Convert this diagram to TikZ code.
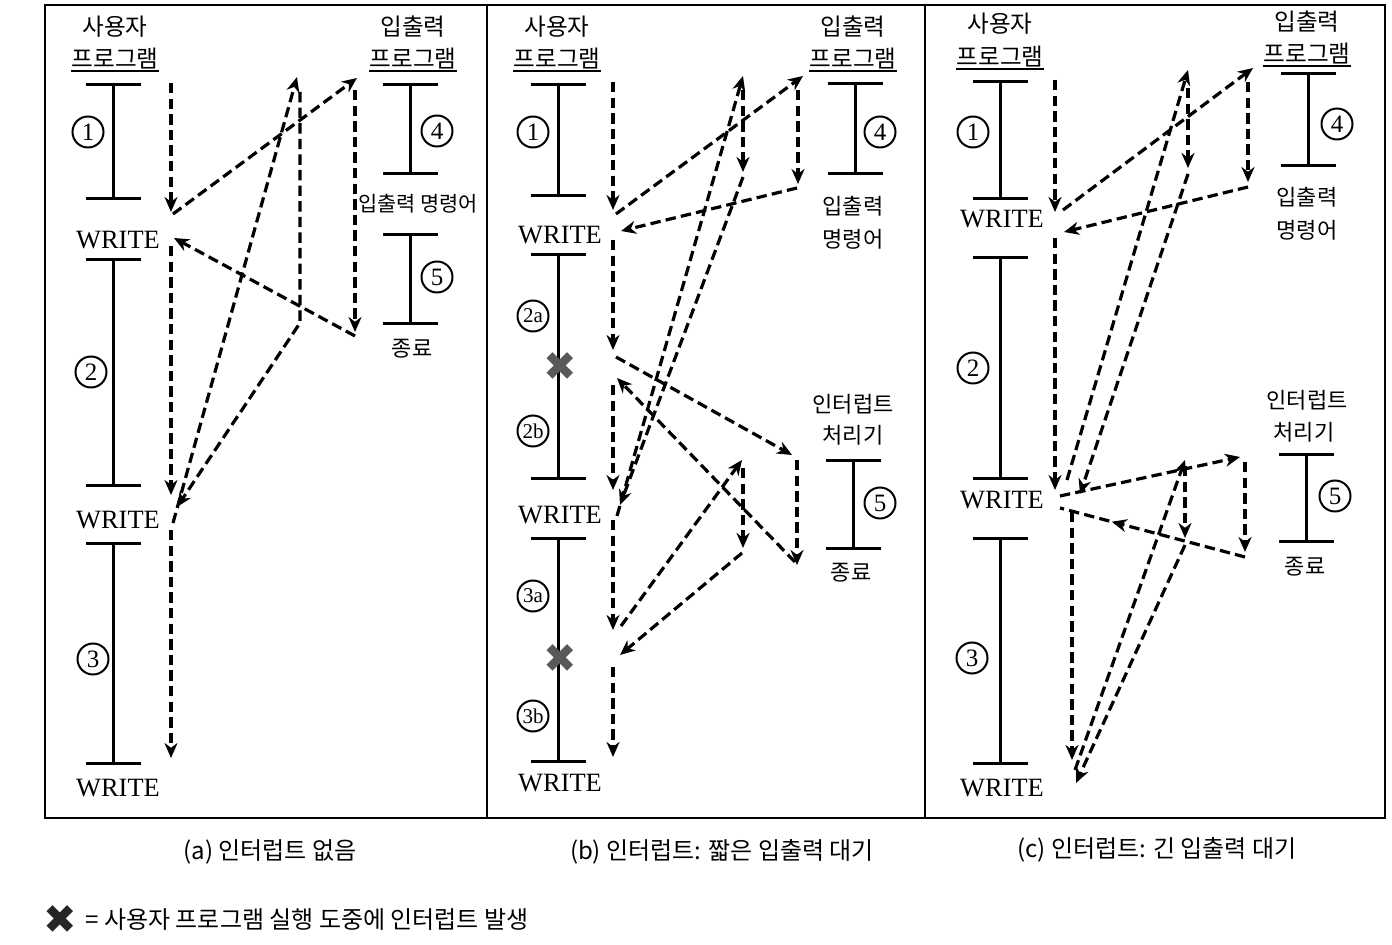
\documentclass[tikz,border=0pt]{standalone}
\usepackage{fontspec}
\setmainfont{Liberation Serif}
\newfontfamily\krfont{Noto Sans CJK KR}
\newfontfamily\symfont{DejaVu Sans}
\usetikzlibrary{arrows.meta,positioning,decorations.markings}

\newlength{\du}
\setlength{\du}{0.5pt}

\tikzset{
  hdr/.style={font=\krfont\fontsize{11.8}{13}\selectfont, inner sep=0pt},
  ulhdr/.style={hdr, inner ysep=0.5pt},
  sml/.style={font=\krfont\fontsize{11}{13}\selectfont, inner sep=0pt},
  wrt/.style={font=\fontsize{13.2}{15}\selectfont, inner sep=0pt},
  num/.style={draw, circle, line width=1pt, minimum size=15.5pt, inner sep=0pt, font=\fontsize{12.5}{13}\selectfont},
  numab/.style={num, font=\fontsize{10.5}{11}\selectfont},
  seg/.style={line width=1.5pt, arrows={Bar[width=27.5pt]-Bar[width=27.5pt]}},
  uline/.style={line width=0.8pt},
  link/.style={line width=1.6pt, dash pattern=on 5.2pt off 2.6pt},
  flow/.style={link, arrows={-Stealth[length=7.5pt,width=6.5pt,inset=2.4pt]}},
  midflow/.style={link, postaction={decorate}, decoration={markings, mark=at position 0.72 with {\arrow{Stealth[length=7.5pt,width=6.5pt,inset=2.4pt]}}}},
  xmk/.style={font=\symfont\fontsize{20}{20}\selectfont, text=black!65, inner sep=0pt},
  capt/.style={font=\krfont\fontsize{12}{14}\selectfont, inner sep=0pt},
  frame/.style={line width=1.4pt}
}

\begin{document}
\begin{tikzpicture}
\pgftransformxscale{1.000000}
\pgftransformyscale{-1.000000}
\useasboundingbox (0\du,0\du) rectangle (1392\du,945\du);
% frames
\draw[frame] (45\du,5\du) rectangle (1385\du,818\du);
\draw[frame] (487\du,5\du) -- (487\du,818\du);
\draw[frame] (925\du,5\du) -- (925\du,818\du);

% (a) user program
\node[hdr] (a-usr) at (115\du,27\du) {사용자};
\node[ulhdr] (a-prg) at (115\du,59\du) {프로그램};
\draw[uline] (a-prg.south west) -- (a-prg.south east);
\draw[seg] (113\du,83\du) coordinate (a-s1t) -- (113\du,200\du) coordinate (a-s1b);
\node[wrt] (a-w1) at (118\du,240\du) {WRITE};
\draw[seg] (113\du,258\du) coordinate (a-s2t) -- (113\du,487\du) coordinate (a-s2b);
\node[wrt] (a-w2) at (118\du,520\du) {WRITE};
\draw[seg] (113\du,542\du) coordinate (a-s3t) -- (113\du,765\du) coordinate (a-s3b);
\node[wrt] (a-w3) at (118\du,788\du) {WRITE};
\node[num] (a-n1) at (88\du,132\du) {1};
\node[num] (a-n2) at (91\du,372\du) {2};
\node[num] (a-n3) at (93\du,659\du) {3};
% (a) I/O program
\node[hdr] (a-io) at (413\du,27\du) {입출력};
\node[ulhdr] (a-iop) at (413\du,59\du) {프로그램};
\draw[uline] (a-iop.south west) -- (a-iop.south east);
\draw[seg] (410\du,83\du) coordinate (a-s4t) -- (410\du,175\du) coordinate (a-s4b);
\node[sml, font=\krfont\fontsize{10.4}{12}\selectfont] (a-cmd) at (418\du,204\du) {입출력 명령어};
\draw[seg] (410\du,233\du) coordinate (a-s5t) -- (410\du,325\du) coordinate (a-s5b);
\node[sml] (a-end) at (412\du,349\du) {종료};
\node[num] (a-n4) at (437\du,131\du) {4};
\node[num] (a-n5) at (437\du,277\du) {5};
% (a) flow
\coordinate (pa0) at (171\du,83\du);   \coordinate (pa1) at (171\du,212\du);
\coordinate (pa2) at (173\du,214\du);  \coordinate (pa3) at (357\du,78\du);
\coordinate (pa4) at (355\du,90\du);   \coordinate (pa5) at (355\du,332\du);
\coordinate (pa6) at (355\du,336\du);  \coordinate (pa7) at (174\du,238\du);
\coordinate (pa8) at (171\du,246\du);  \coordinate (pa9) at (171\du,495\du);
\coordinate (pa10) at (173\du,523\du); \coordinate (pa11) at (297\du,77\du);
\coordinate (pa12) at (300\du,92\du);  \coordinate (pa13) at (300\du,323\du);
\coordinate (pa14) at (177\du,507\du);
\coordinate (pa15) at (171\du,530\du); \coordinate (pa16) at (171\du,758\du);
\draw[flow] (pa0) -- (pa1);
\draw[flow] (pa2) -- (pa3);
\draw[flow] (pa4) -- (pa5);
\draw[flow] (pa6) -- (pa7);
\draw[flow] (pa8) -- (pa9);
\draw[flow] (pa10) -- (pa11);
\draw[flow] (pa12) -- (pa13) -- (pa14);
\draw[flow] (pa15) -- (pa16);

% (b) user program
\node[hdr] (b-usr) at (557\du,27\du) {사용자};
\node[ulhdr] (b-prg) at (557\du,59\du) {프로그램};
\draw[uline] (b-prg.south west) -- (b-prg.south east);
\draw[seg] (558\du,83\du) coordinate (b-s1t) -- (558\du,197\du) coordinate (b-s1b);
\node[wrt] (b-w1) at (560\du,235\du) {WRITE};
\draw[seg] (558\du,253\du) coordinate (b-s2t) -- (558\du,480\du) coordinate (b-s2b);
\node[wrt] (b-w2) at (560\du,515\du) {WRITE};
\draw[seg] (558\du,537\du) coordinate (b-s3t) -- (558\du,763\du) coordinate (b-s3b);
\node[wrt] (b-w3) at (560\du,783\du) {WRITE};
\node[num] (b-n1) at (533\du,132\du) {1};
\node[numab] (b-n2a) at (533\du,316\du) {2a};
\node[numab] (b-n2b) at (533\du,431\du) {2b};
\node[numab] (b-n3a) at (533\du,596\du) {3a};
\node[numab] (b-n3b) at (533\du,716\du) {3b};
\node[xmk] (b-x1) at (560\du,367\du) {✖};
\node[xmk] (b-x2) at (560\du,659\du) {✖};
% (b) I/O program
\node[hdr] (b-io) at (853\du,27\du) {입출력};
\node[ulhdr] (b-iop) at (853\du,59\du) {프로그램};
\draw[uline] (b-iop.south west) -- (b-iop.south east);
\draw[seg] (855\du,82\du) coordinate (b-s4t) -- (855\du,175\du) coordinate (b-s4b);
\node[num] (b-n4) at (880\du,132\du) {4};
\node[sml] (b-cmd1) at (853\du,206\du) {입출력};
\node[sml] (b-cmd2) at (853\du,239\du) {명령어};
% (b) interrupt handler
\node[sml] (b-ih1) at (853\du,404\du) {인터럽트};
\node[sml] (b-ih2) at (853\du,435\du) {처리기};
\draw[seg] (853\du,459\du) coordinate (b-s5t) -- (853\du,550\du) coordinate (b-s5b);
\node[num] (b-n5) at (880\du,503\du) {5};
\node[sml] (b-end) at (851\du,573\du) {종료};
% (b) flow
\coordinate (pb0) at (613\du,82\du);   \coordinate (pb1) at (613\du,210\du);
\coordinate (pb2) at (616\du,214\du);  \coordinate (pb3) at (803\du,76\du);
\coordinate (pb4) at (798\du,90\du);   \coordinate (pb5) at (798\du,184\du);
\coordinate (pb6) at (797\du,188\du);  \coordinate (pb7) at (621\du,231\du);
\coordinate (pb8) at (613\du,240\du);  \coordinate (pb9) at (613\du,350\du);
\coordinate (pb10) at (616\du,357\du); \coordinate (pb11) at (792\du,455\du);
\coordinate (pb12) at (797\du,460\du); \coordinate (pb13) at (797\du,565\du);
\coordinate (pb14) at (795\du,562\du); \coordinate (pb15) at (617\du,378\du);
\coordinate (pb16) at (613\du,385\du); \coordinate (pb17) at (613\du,490\du);
\coordinate (pb18) at (617\du,516\du); \coordinate (pb19) at (743\du,76\du);
\coordinate (pb20) at (743\du,90\du);  \coordinate (pb21) at (743\du,172\du);
\coordinate (pb22) at (743\du,177\du); \coordinate (pb23) at (620\du,505\du);
\coordinate (pb24) at (613\du,520\du); \coordinate (pb25) at (613\du,630\du);
\coordinate (pb26) at (621\du,626\du); \coordinate (pb27) at (742\du,460\du);
\coordinate (pb28) at (743\du,468\du); \coordinate (pb29) at (743\du,548\du);
\coordinate (pb30) at (742\du,553\du); \coordinate (pb31) at (620\du,655\du);
\coordinate (pb32) at (613\du,667\du); \coordinate (pb33) at (613\du,757\du);
\draw[flow] (pb0) -- (pb1);
\draw[flow] (pb2) -- (pb3);
\draw[flow] (pb4) -- (pb5);
\draw[flow] (pb6) -- (pb7);
\draw[flow] (pb8) -- (pb9);
\draw[flow] (pb10) -- (pb11);
\draw[flow] (pb12) -- (pb13);
\draw[flow] (pb14) -- (pb15);
\draw[flow] (pb16) -- (pb17);
\draw[flow] (pb18) -- (pb19);
\draw[flow] (pb20) -- (pb21);
\draw[flow] (pb22) -- (pb23);
\draw[flow] (pb24) -- (pb25);
\draw[flow] (pb26) -- (pb27);
\draw[flow] (pb28) -- (pb29);
\draw[flow] (pb30) -- (pb31);
\draw[flow] (pb32) -- (pb33);

% (c) user program
\node[hdr] (c-usr) at (1000\du,24\du) {사용자};
\node[ulhdr] (c-prg) at (1000\du,57\du) {프로그램};
\draw[uline] (c-prg.south west) -- (c-prg.south east);
\draw[seg] (1000\du,80\du) coordinate (c-s1t) -- (1000\du,200\du) coordinate (c-s1b);
\node[wrt] (c-w1) at (1002\du,219\du) {WRITE};
\draw[seg] (1000\du,256\du) coordinate (c-s2t) -- (1000\du,480\du) coordinate (c-s2b);
\node[wrt] (c-w2) at (1002\du,500\du) {WRITE};
\draw[seg] (1000\du,537\du) coordinate (c-s3t) -- (1000\du,765\du) coordinate (c-s3b);
\node[wrt] (c-w3) at (1002\du,788\du) {WRITE};
\node[num] (c-n1) at (973\du,132\du) {1};
\node[num] (c-n2) at (973\du,368\du) {2};
\node[num] (c-n3) at (972\du,658\du) {3};
% (c) I/O program
\node[hdr] (c-io) at (1307\du,22\du) {입출력};
\node[ulhdr] (c-iop) at (1307\du,54\du) {프로그램};
\draw[uline] (c-iop.south west) -- (c-iop.south east);
\draw[seg] (1308\du,72\du) coordinate (c-s4t) -- (1308\du,167\du) coordinate (c-s4b);
\node[num] (c-n4) at (1337\du,124\du) {4};
\node[sml] (c-cmd1) at (1307\du,197\du) {입출력};
\node[sml] (c-cmd2) at (1307\du,230\du) {명령어};
% (c) interrupt handler
\node[sml] (c-ih1) at (1307\du,400\du) {인터럽트};
\node[sml] (c-ih2) at (1304\du,432\du) {처리기};
\draw[seg] (1306\du,453\du) coordinate (c-s5t) -- (1306\du,543\du) coordinate (c-s5b);
\node[num] (c-n5) at (1335\du,496\du) {5};
\node[sml] (c-end) at (1305\du,567\du) {종료};
% (c) flow
\coordinate (pc0) at (1055\du,80\du);   \coordinate (pc1) at (1055\du,212\du);
\coordinate (pc2) at (1063\du,210\du);  \coordinate (pc3) at (1253\du,68\du);
\coordinate (pc4) at (1248\du,82\du);   \coordinate (pc5) at (1248\du,182\du);
\coordinate (pc6) at (1248\du,187\du);  \coordinate (pc7) at (1064\du,232\du);
\coordinate (pc8) at (1055\du,238\du);  \coordinate (pc9) at (1055\du,490\du);
\coordinate (pc10) at (1060\du,496\du); \coordinate (pc11) at (1240\du,457\du);
\coordinate (pc12) at (1245\du,462\du); \coordinate (pc13) at (1245\du,552\du);
\coordinate (pc14) at (1245\du,557\du); \coordinate (pc15) at (1060\du,508\du);
\coordinate (pc16) at (1067\du,480\du); \coordinate (pc17) at (1188\du,70\du);
\coordinate (pc18) at (1188\du,88\du);  \coordinate (pc19) at (1188\du,168\du);
\coordinate (pc20) at (1188\du,174\du); \coordinate (pc21) at (1080\du,494\du);
\coordinate (pc22) at (1072\du,512\du); \coordinate (pc23) at (1072\du,760\du);
\coordinate (pc24) at (1075\du,770\du); \coordinate (pc25) at (1185\du,460\du);
\coordinate (pc26) at (1185\du,466\du); \coordinate (pc27) at (1185\du,538\du);
\coordinate (pc28) at (1185\du,545\du); \coordinate (pc29) at (1076\du,783\du);
\draw[flow] (pc0) -- (pc1);
\draw[flow] (pc2) -- (pc3);
\draw[flow] (pc4) -- (pc5);
\draw[flow] (pc6) -- (pc7);
\draw[flow] (pc8) -- (pc9);
\draw[flow] (pc10) -- (pc11);
\draw[flow] (pc12) -- (pc13);
\draw[midflow] (pc14) -- (pc15);
\draw[flow] (pc16) -- (pc17);
\draw[flow] (pc18) -- (pc19);
\draw[flow] (pc20) -- (pc21);
\draw[flow] (pc22) -- (pc23);
\draw[flow] (pc24) -- (pc25);
\draw[flow] (pc26) -- (pc27);
\draw[flow] (pc28) -- (pc29);

% captions
\node[capt] (cap-a) at (270\du,852\du) {(a) 인터럽트 없음};
\node[capt] (cap-b) at (722\du,852\du) {(b) 인터럽트: 짧은 입출력 대기};
\node[capt] (cap-c) at (1157\du,850\du) {(c) 인터럽트: 긴 입출력 대기};
\node[xmk, text=black!85] (lg-x) at (60\du,920\du) {✖};
\node[capt, right=4pt of lg-x] (lg-txt) {= 사용자 프로그램 실행 도중에 인터럽트 발생};
\end{tikzpicture}
\end{document}
